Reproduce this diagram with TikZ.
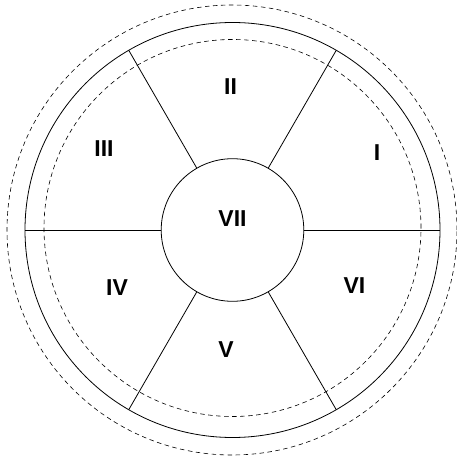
\documentclass[tikz,border=0pt]{standalone}
\usepackage{fontspec}
\setmainfont{Liberation Sans}
\begin{document}
\begin{tikzpicture}[x=1pt, y=1pt,
  ring/.style={draw, line width=0.8pt},
  guide/.style={draw, line width=0.6pt, dash pattern=on 4.5pt off 3.5pt},
  lbl/.style={font=\bfseries\fontsize{23}{27}\selectfont, inner sep=0pt}
]
  \useasboundingbox (-232.5,-227) rectangle (224.5,230);

  % rings
  \draw[guide] (-0.5,0) circle (225pt);
  \draw[ring] (0,0) circle (207.5pt);
  \draw[guide] (0,2) circle (188.5pt);

  % hub and spokes
  \node[ring, circle, minimum size=142.6pt, inner sep=0pt] (hub) at (0,0) {};
  \foreach \a in {0,60,...,300} {
    \coordinate (rim\a) at (\a:207.5pt);
    \draw[line width=0.8pt] (hub.\a) -- (rim\a);
  }

  % sector labels
  \node[lbl] (s1) at (144.5,77) {I};
  \node[lbl] (s2) at (-2,143) {II};
  \node[lbl] (s3) at (-128.5,81) {III};
  \node[lbl] (s4) at (-115.5,-58) {IV};
  \node[lbl] (s5) at (-6.5,-120) {V};
  \node[lbl] (s6) at (122,-56) {VI};
  \node[lbl] (s7) at (0,11.5) {VII};
\end{tikzpicture}
\end{document}
